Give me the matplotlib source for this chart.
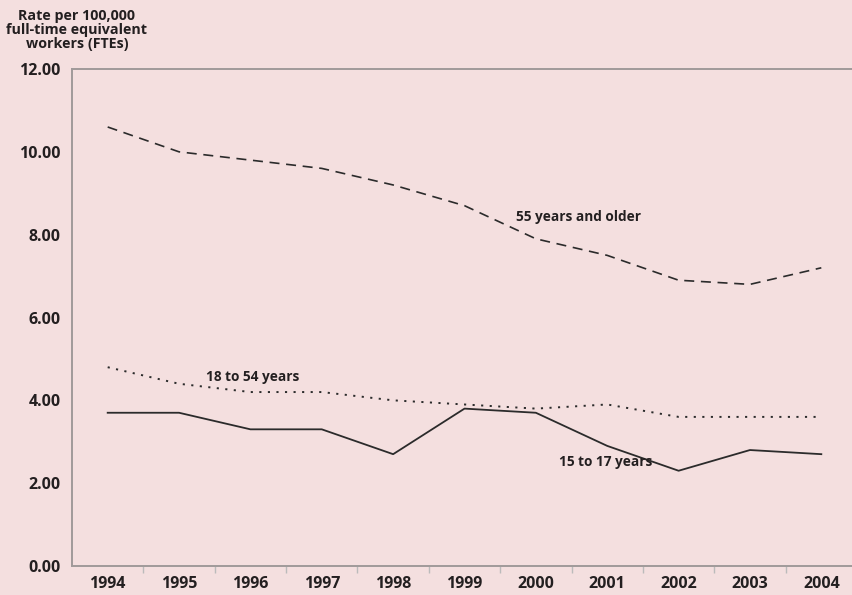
import matplotlib
matplotlib.use('Agg')
import matplotlib.pyplot as plt

years = ['1994', '1995', '1996', '1997', '1998', '1999', '2000', '2001', '2002', '2003', '2004']
age_55_plus = [10.6, 10.0, 9.8, 9.6, 9.2, 8.7, 7.9, 7.5, 6.9, 6.8, 7.2]
age_18_54 = [4.8, 4.4, 4.2, 4.2, 4.0, 3.9, 3.8, 3.9, 3.6, 3.6, 3.6]
age_15_17 = [3.7, 3.7, 3.3, 3.3, 2.7, 3.8, 3.7, 2.9, 2.3, 2.8, 2.7]
y_ticks = [0, 2, 4, 6, 8, 10, 12]

bg = '#f4dfdf'
txt = '#231f20'
plt.rcParams['font.family'] = ['Open Sans', 'DejaVu Sans']
plt.rcParams['font.weight'] = 'bold'

fig = plt.figure(figsize=(8.52, 5.95), dpi=100, facecolor=bg)
ax = fig.add_axes([72 / 852, 1 - 566 / 595, 785 / 852, 497 / 595])
ax.set_facecolor(bg)

x = list(range(len(years)))
ax.plot(x, age_55_plus, color='#2b2b2b', lw=1.2, dashes=(6, 4))
ax.plot(x, age_18_54, color='#2b2b2b', lw=1.4, dashes=(1.1, 3.3))
ax.plot(x, age_15_17, color='#2b2b2b', lw=1.3)

ax.set_xlim(-0.5, len(years) - 0.5)
ax.set_ylim(0, 12)
ax.set_yticks(y_ticks)
ax.set_yticklabels(['%.2f' % v for v in y_ticks], fontsize=11.5, color=txt, fontweight='bold')
ax.set_xticks([i + 0.5 for i in range(len(years))])
ax.set_xticklabels([])
ax.set_xticks(x, minor=True)
ax.set_xticklabels(years, minor=True, fontsize=11.5, color=txt, fontweight='bold')
ax.tick_params(axis='x', which='minor', length=0, pad=7.5)
ax.tick_params(axis='x', which='major', length=5, color='#bbbbbb', width=1)
ax.tick_params(axis='y', length=0, pad=8)

ax.spines['right'].set_visible(False)
for side in ['left', 'bottom', 'top']:
    ax.spines[side].set_color('#a09a9a')
    ax.spines[side].set_linewidth(1.4)

ax.text(5.72, 8.33, '55 years and older', fontsize=9.8, color=txt, fontweight='bold')
ax.text(1.38, 4.46, '18 to 54 years', fontsize=9.8, color=txt, fontweight='bold')
ax.text(6.32, 2.42, '15 to 17 years', fontsize=9.8, color=txt, fontweight='bold')

fig.text(77 / 852, 1 - 30 / 595, 'Rate per 100,000\nfull-time equivalent\nworkers (FTEs)',
         ha='center', va='center', fontsize=10.3, color=txt, fontweight='bold', linespacing=1.0)

fig.savefig('out.png', dpi=100, facecolor=bg)
